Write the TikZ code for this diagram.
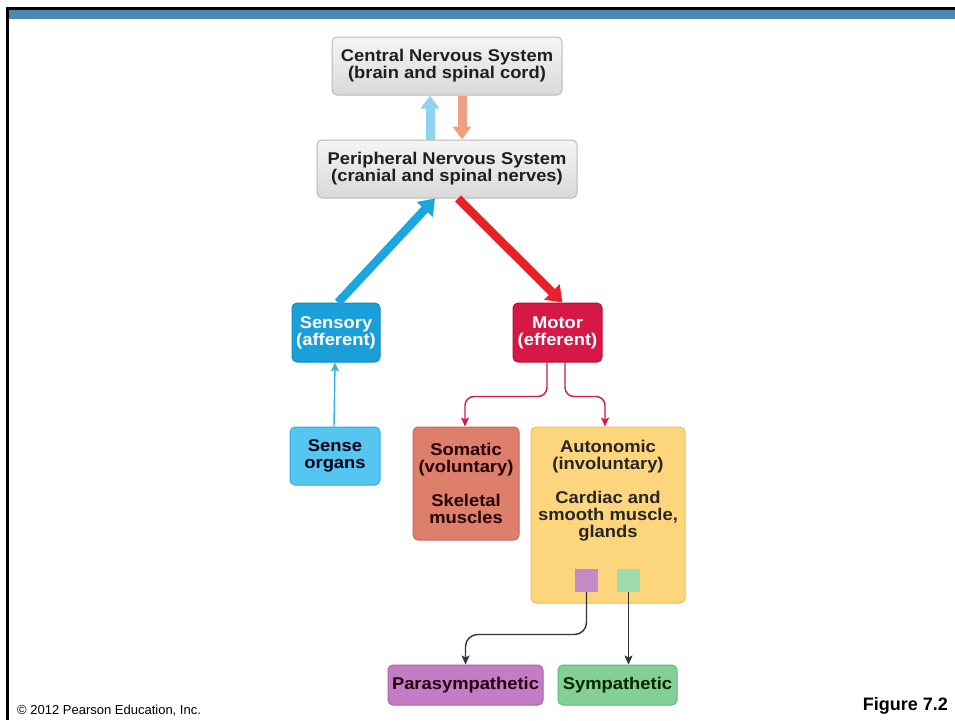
\documentclass[tikz,border=0pt]{standalone}
\usepackage{fontspec}
\setmainfont{Liberation Sans}
\newfontfamily\bx{Liberation Sans Bold}[FakeStretch=1.08]
\usetikzlibrary{arrows.meta,positioning}
\definecolor{band}{HTML}{4A88B4}
\definecolor{sensfill}{HTML}{1B9FD8}
\definecolor{sensdraw}{HTML}{1488C0}
\definecolor{motfill}{HTML}{D51846}
\definecolor{motdraw}{HTML}{B01038}
\definecolor{orgfill}{HTML}{55C6EF}
\definecolor{orgdraw}{HTML}{2FB0E0}
\definecolor{somfill}{HTML}{DD7F6A}
\definecolor{somdraw}{HTML}{C86A55}
\definecolor{autfill}{HTML}{FDD57C}
\definecolor{autdraw}{HTML}{F5BC50}
\definecolor{psqfill}{HTML}{C38BC7}
\definecolor{gsqfill}{HTML}{A0DBB0}
\definecolor{parfill}{HTML}{C47CC6}
\definecolor{pardraw}{HTML}{A860AA}
\definecolor{symfill}{HTML}{83CF95}
\definecolor{symdraw}{HTML}{5FB873}
\definecolor{bigblue}{HTML}{1AA7E0}
\definecolor{bigred}{HTML}{E8202A}
\definecolor{ltblue}{HTML}{8FD3F3}
\definecolor{salmon}{HTML}{F0A080}
\definecolor{thinblue}{HTML}{3AAEE0}
\definecolor{thinred}{HTML}{D0194A}
\definecolor{darkline}{HTML}{333333}
\tikzset{
  txt/.style={font=\bx\fontsize{17}{17}\selectfont, align=center, inner sep=0pt},
  box/.style={rounded corners=5pt, line width=1pt, inner sep=0pt, txt},
  graybox/.style={box, top color=gray!8, bottom color=gray!30, draw=gray!55, text=black!88},
  bigarrow/.style={line width=8.5pt, -{Triangle[length=15pt,width=21pt]}},
  midarrow/.style={line width=9pt, -{Triangle[length=13pt,width=18pt]}},
  thin/.style={line width=1.4pt, -{Stealth[length=9pt,width=8pt,inset=2pt]}},
}
\begin{document}
\begin{tikzpicture}[x=1pt,y=-1pt]
\useasboundingbox (0,0) rectangle (955,720);
\fill[white] (0,0) rectangle (955,720);
% frame
\fill[band] (9,9.5) rectangle (955,18.5);
\fill[black] (6,7) rectangle (955,9.5);
\fill[black] (6,7) rectangle (8.5,720);
% boxes
\node[graybox, minimum width=230pt, minimum height=58pt] (cns) at (447,66) {Central Nervous System\\(brain and spinal cord)};
\node[graybox, minimum width=260pt, minimum height=58pt] (pns) at (447,169) {Peripheral Nervous System\\(cranial and spinal nerves)};
\node[box, fill=sensfill, draw=sensdraw, text=white, minimum width=88pt, minimum height=59pt] (sens) at (336,332.5) {Sensory\\(afferent)};
\node[box, fill=motfill, draw=motdraw, text=white, minimum width=89pt, minimum height=59pt] (mot) at (557.5,332.5) {Motor\\(efferent)};
\node[box, fill=orgfill, draw=orgdraw, text={black!85!blue!70!black}, minimum width=90pt, minimum height=58pt] (org) at (335,456) {Sense\\organs};
\node[box, fill=somfill, draw=somdraw, text={black!85!red}, minimum width=106pt, minimum height=113pt] (som) at (466,483.5) {Somatic\\(voluntary)\\[17pt]Skeletal\\muscles};
\node[box, fill=autfill, draw=autdraw, minimum width=154pt, minimum height=176pt] (aut) at (608,515) {};
\node[txt, text=black!85] (auttxt) at (608,491) {Autonomic\\(involuntary)\\[17pt]Cardiac and\\smooth muscle,\\glands};
\node[fill=psqfill, minimum width=23pt, minimum height=23pt, inner sep=0pt] (psq) at (586.5,580.5) {};
\node[fill=gsqfill, minimum width=23pt, minimum height=23pt, inner sep=0pt] (gsq) at (628.5,580.5) {};
\node[box, fill=parfill, draw=pardraw, text={black!80!purple}, minimum width=155pt, minimum height=40pt] (par) at (465.5,685) {Parasympathetic};
\node[box, fill=symfill, draw=symdraw, text={black!85!green}, minimum width=119pt, minimum height=40pt] (sym) at (617.5,685) {Sympathetic};
% big arrows
\draw[midarrow, ltblue] ([xshift=-17pt]pns.north) -- ([xshift=-17pt]cns.south);
\draw[midarrow, salmon] ([xshift=15pt]cns.south) -- ([xshift=15pt]pns.north);
\draw[bigarrow, bigblue] ([xshift=2pt]sens.north) -- ([xshift=-12pt]pns.south);
\draw[bigarrow, bigred] ([xshift=11pt]pns.south) -- ([xshift=5pt]mot.north);
% thin arrows
\draw[thin, thinblue] ([xshift=-1pt]org.north) -- ([xshift=-1pt]sens.south);
\draw[thin, thinred, rounded corners=9pt] ([xshift=-10.5pt]mot.south) |- ([xshift=-1pt,yshift=30pt]som.north) -- ([xshift=-1pt]som.north);
\draw[thin, thinred, rounded corners=9pt] ([xshift=7.5pt]mot.south) |- ([xshift=-3pt,yshift=30pt]aut.north) -- ([xshift=-3pt]aut.north);
\draw[thin, darkline, rounded corners=12pt] (psq.south) |- ([yshift=30pt]par.north) -- (par.north);
\draw[thin, darkline] (gsq.south) -- (gsq.south |- sym.north);
% footer
\node[anchor=base west, inner sep=0pt, font=\fontsize{13}{14}\selectfont] (copy) at (17,714) {\textcopyright{} 2012 Pearson Education, Inc.};
\node[anchor=base east, inner sep=0pt, font=\bfseries\fontsize{18}{19}\selectfont] (fig) at (948,710) {Figure 7.2};
\end{tikzpicture}
\end{document}
